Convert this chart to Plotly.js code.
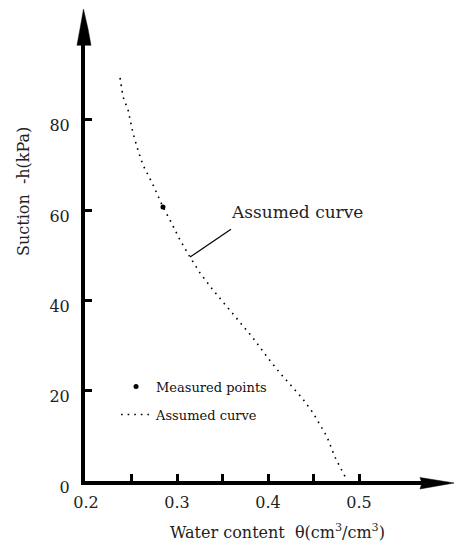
<!DOCTYPE html>
<html>
<head>
<meta charset="utf-8">
<script src="https://cdn.plot.ly/plotly-3.0.1.min.js"></script>
<style>html,body{margin:0;padding:0;background:#fff;}#chart{width:457px;height:545px;}</style>
</head>
<body>
<div id="chart"></div>
<script>
// Assumed curve (dotted): water content vs suction
const curveTheta = [0.2374, 0.2407, 0.2462, 0.2516, 0.2571, 0.2626, 0.2725, 0.2846, 0.2923, 0.3033, 0.3143, 0.3253, 0.3396, 0.3549, 0.3692, 0.3835, 0.3989, 0.4132, 0.4374, 0.4495, 0.4648, 0.4736, 0.4791, 0.4868];
const curveSuction = [89.3, 85.1, 82.2, 77.1, 73.3, 70.0, 66.1, 60.7, 57.8, 53.4, 49.6, 46.1, 42.3, 38.6, 35.0, 31.7, 27.5, 23.9, 18.4, 15.1, 9.8, 5.3, 3.1, 0.2];
// Measured points
const measTheta = [0.2846];
const measSuction = [60.7];
// Axis ticks
const xTickVals = [0.2, 0.3, 0.4, 0.5];
const xTickText = ['0.2', '0.3', '0.4', '0.5'];
const xMinorVals = [0.25, 0.35, 0.45];
const yTickVals = [0, 20, 40, 60, 80];
const yTickText = ['0', '20', '40', '60', '80'];

const serif = 'DejaVu Serif';

const traces = [
  {
    x: measTheta, y: measSuction, type: 'scatter', mode: 'markers',
    name: 'Measured points', legendgroup: 'a',
    marker: {color: '#000', size: 5}
  },
  {
    x: curveTheta, y: curveSuction, type: 'scatter', mode: 'lines',
    name: 'Assumed curve', legendgroup: 'b',
    line: {color: '#000', width: 1.6, dash: '1.6px,5px'}
  }
];

const layout = {
  width: 457, height: 545,
  margin: {l: 85, r: 27, t: 40, b: 64},
  paper_bgcolor: '#fff', plot_bgcolor: '#fff',
  showlegend: true,
  font: {family: serif},
  legend: {
    x: 0.09, y: 0.248, xanchor: 'left', yanchor: 'top',
    font: {family: serif, size: 13, color: '#111'},
    bgcolor: 'rgba(0,0,0,0)', traceorder: 'grouped', tracegroupgap: 8,
    itemwidth: 30
  },
  xaxis: {
    range: [0.1989, 0.578], showline: true, linewidth: 4, linecolor: '#000',
    showgrid: false, zeroline: false,
    tickmode: 'array', tickvals: xTickVals, ticktext: xTickText,
    ticks: 'inside', ticklen: 7, tickwidth: 3, tickcolor: '#000',
    minor: {tickmode: 'array', tickvals: xMinorVals, ticks: 'inside', ticklen: 7, tickwidth: 3, tickcolor: '#000', showgrid: false},
    tickfont: {family: serif, size: 16, color: '#222'},
    ticklabelstandoff: 4
  },
  yaxis: {
    range: [0, 97.7], showline: true, linewidth: 4, linecolor: '#000',
    showgrid: false, zeroline: false,
    tickmode: 'array', tickvals: yTickVals, ticktext: yTickText,
    ticks: 'inside', ticklen: 7, tickwidth: 3, tickcolor: '#000',
    tickfont: {family: serif, size: 16, color: '#222'},
    ticklabelstandoff: 8, ticklabelshift: 6
  },
  shapes: [
    // y-axis arrowhead
    {type: 'path', xref: 'paper', yref: 'paper', layer: 'above',
     path: 'M -0.0044 1.070 L -0.0145 1.025 L -0.0232 0.988 L 0.0174 0.988 L 0.0087 1.025 Z',
     fillcolor: '#000', line: {color: '#000', width: 0.5}},
    // x-axis arrowhead
    {type: 'path', xref: 'paper', yref: 'paper', layer: 'above',
     path: 'M 0.9710 0.0079 L 1.0696 -0.0045 L 0.9710 -0.0181 L 0.9768 -0.0045 Z',
     fillcolor: '#000', line: {color: '#000', width: 0.5}},
    // leader line for "Assumed curve"
    {type: 'line', xref: 'x', yref: 'y', x0: 0.3143, y0: 49.6, x1: 0.3593, y1: 55.8,
     line: {color: '#000', width: 1.2}}
  ],
  annotations: [
    {text: 'Assumed curve', xref: 'paper', yref: 'paper',
     x: (297 - 85) / 345, y: (481 - 212) / 441, xanchor: 'center', yanchor: 'middle',
     showarrow: false, font: {family: serif, size: 17, color: '#222'}},
    {text: 'Suction  -h(kPa)', xref: 'paper', yref: 'paper',
     x: (23 - 85) / 345, y: (481 - 192) / 441, xanchor: 'center', yanchor: 'middle',
     textangle: -90, showarrow: false, font: {family: serif, size: 16, color: '#222'}},
    {text: 'Water content  \u03b8(cm<sup>3</sup>/cm<sup>3</sup>)', xref: 'paper', yref: 'paper',
     x: (277 - 85) / 345, y: (481 - 531) / 441, xanchor: 'center', yanchor: 'middle',
     showarrow: false, font: {family: serif, size: 16, color: '#222'}}
  ]
};

Plotly.newPlot('chart', traces, layout, {displayModeBar: false, staticPlot: true});
</script>
</body>
</html>
